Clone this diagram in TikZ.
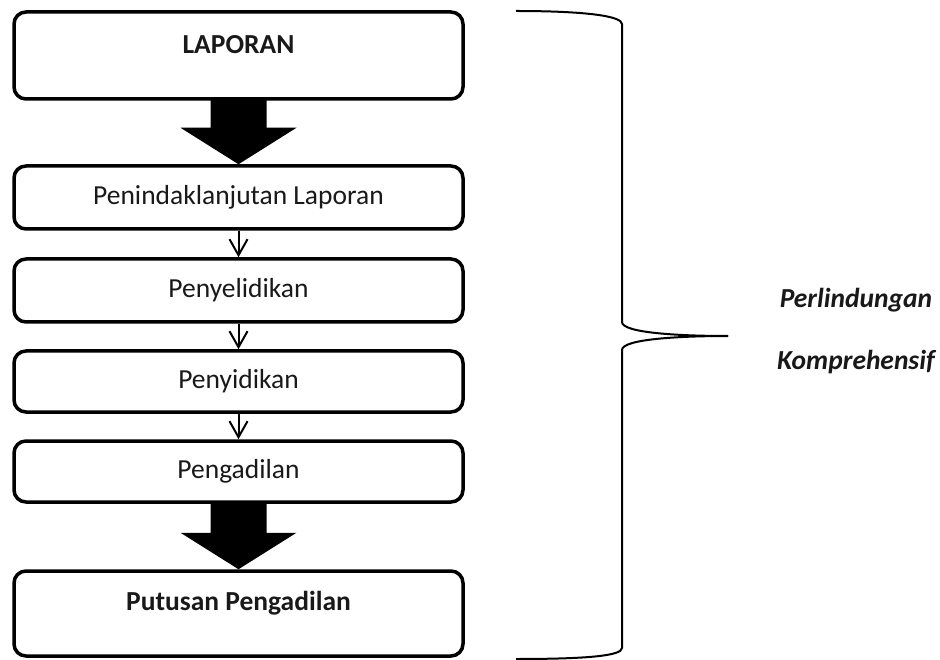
\documentclass[tikz,border=0pt]{standalone}
\usepackage{fontspec}
\setmainfont{Carlito}
\usetikzlibrary{calc,arrows.meta}
\begin{document}
\begin{tikzpicture}[x=1pt,y=-1pt,
  box/.style={draw=black, line width=3.5pt, rounded corners=12pt, minimum width=449pt, inner sep=0pt},
  txt/.style={font=\fontsize{27.5}{32}\selectfont, text=black!90, inner sep=0pt},
  boldtxt/.style={txt, font=\fontsize{27.5}{32}\selectfont\bfseries},
  sidetxt/.style={txt, font=\fontsize{27.5}{32}\selectfont\bfseries\itshape},
  bigarrow/.style={fill=black},
  smallarrow/.style={draw=black, line width=2pt, -{Straight Barb[length=16pt,width=18pt,line width=2pt]}},
  bracepath/.style={draw=black, line width=2pt}
]
\useasboundingbox (0,0) rectangle (940,660);
\fill[white] (0,0) rectangle (940,660);

\node[box, minimum height=87pt] (b1) at (238.5,55.5) {};
\node[boldtxt] (t1) at (238.5,45) {LAPORAN};
\node[box, minimum height=63pt, txt] (b2) at (238.5,197.5) {Penindaklanjutan Laporan};
\node[box, minimum height=63pt, txt] (b3) at (238.5,290.5) {Penyelidikan};
\node[box, minimum height=61pt, txt] (b4) at (238.5,381.5) {Penyidikan};
\node[box, minimum height=61pt, txt] (b5) at (238.5,471.5) {Pengadilan};
\node[box, minimum height=85pt] (b6) at (238.5,613.5) {};
\node[boldtxt] (t6) at (238.5,603) {Putusan Pengadilan};

% big arrows
\fill[bigarrow] ($(b1.south)+(-28,-2)$) -- ($(b1.south)+(28,-2)$) -- ($(b1.south)+(28,27)$)
  -- ($(b1.south)+(58,27)$) -- (b2.north) -- ($(b1.south)+(-58,27)$) -- ($(b1.south)+(-28,27)$) -- cycle;
\fill[bigarrow] ($(b5.south)+(-28,-2)$) -- ($(b5.south)+(28,-2)$) -- ($(b5.south)+(28,29)$)
  -- ($(b5.south)+(58,29)$) -- (b6.north) -- ($(b5.south)+(-58,29)$) -- ($(b5.south)+(-28,29)$) -- cycle;

% small arrows
\draw[smallarrow] (b2.south) -- (b3.north);
\draw[smallarrow] (b3.south) -- (b4.north);
\draw[smallarrow] (b4.south) -- (b5.north);

% brace
\coordinate (bt) at (516,11);
\coordinate (bb) at (516,659);
\coordinate (tip) at (728,336);
\draw[bracepath] (bt) .. controls (585,11) and (622,16) .. (622,24) -- (622,322)
  .. controls (622,333) and (680,336) .. (tip);
\draw[bracepath] (tip) .. controls (680,336) and (622,339) .. (622,350) -- (622,648)
  .. controls (622,656) and (585,659) .. (bb);

\node[sidetxt] (p1) at (856,300) {Perlindungan};
\node[sidetxt] (p2) at (856,362) {Komprehensif};
\end{tikzpicture}
\end{document}
